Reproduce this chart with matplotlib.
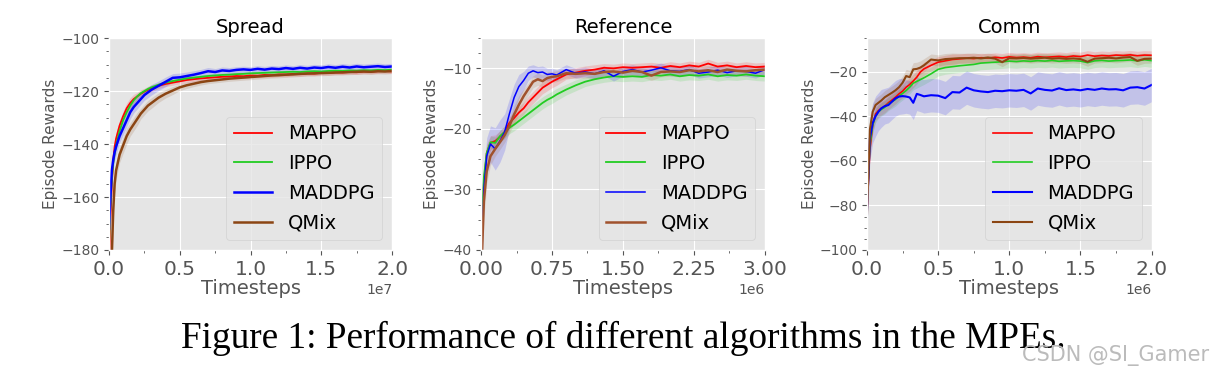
import matplotlib
matplotlib.use('Agg')
import matplotlib.pyplot as plt
from matplotlib.ticker import AutoMinorLocator, MultipleLocator

plt.style.use('ggplot')

names = ['MAPPO', 'IPPO', 'MADDPG', 'QMix']

# ---- Spread (timesteps in 1e6) ----
spread_x = [0, 0.1, 0.2, 0.3, 0.4, 0.5, 0.75, 1.0, 1.25, 1.5, 1.75, 2.0, 2.25, 2.5, 2.75, 3.0,
            3.5, 4, 4.5, 5, 5.5, 6, 6.5, 7, 7.5, 8, 8.5, 9, 9.5, 10, 10.5, 11, 11.5, 12, 12.5,
            13, 13.5, 14, 14.5, 15, 15.5, 16, 16.5, 17, 17.5, 18, 18.5, 19, 19.5, 20]
spread_mappo = [-185, -168, -155, -146, -141, -138, -133, -129.5, -126.5, -124.5, -123, -122, -121, -120.2,
                -119.5, -119, -118, -117.3, -116.8, -116.3, -115.8, -115.5, -115.2, -115, -114.8, -114.6,
                -114.5, -114.3, -114.4, -114.1, -114.2, -113.9, -114, -113.7, -113.8, -113.5, -113.6,
                -113.3, -113.4, -113.1, -113.2, -112.9, -113, -112.8, -112.9, -112.6, -112.7, -112.5,
                -112.4, -112.6]
spread_ippo = [-178, -163, -153, -147, -143.5, -140.5, -135, -131, -128, -125.5, -123.5, -122, -120.8, -120,
               -119.2, -118.6, -117.6, -116.8, -116.2, -115.7, -115.2, -114.9, -114.6, -114.3, -114.1,
               -113.9, -113.8, -113.6, -113.5, -113.3, -113.2, -113.1, -113.0, -112.9, -112.8, -112.7,
               -112.8, -112.6, -112.5, -112.6, -112.4, -112.3, -112.4, -112.2, -112.3, -112.1, -112.2,
               -112.0, -112.1, -111.9]
spread_maddpg = [-172, -160, -150, -146, -143, -141, -137, -134, -131, -128, -126, -124.5, -123, -121.5,
                 -120.5, -119.5, -118, -116.5, -115, -114.8, -114.3, -113.8, -113.2, -112.5, -112.8,
                 -112.2, -112.4, -112, -111.8, -112, -111.6, -111.9, -111.5, -111.7, -111.3, -111.6,
                 -111.2, -111.5, -111.1, -111.3, -110.9, -111.2, -110.8, -111.1, -110.7, -111, -110.8,
                 -110.6, -110.9, -110.7]
spread_qmix = [-195, -190, -182, -165, -155, -150, -144, -140.5, -137, -134.5, -132.5, -130.5, -128.5, -127,
               -125.5, -124.5, -122.5, -121, -119.8, -118.6, -117.8, -117.2, -116.6, -116.2, -115.9,
               -115.6, -115.3, -115.1, -114.9, -114.7, -114.5, -114.3, -114.1, -114.0, -113.8, -113.7,
               -113.5, -113.4, -113.3, -113.2, -113.1, -113.0, -112.9, -112.8, -112.7, -112.6, -112.7,
               -112.5, -112.6, -112.4]
spread_mappo_std = [3, 3, 3, 2.5, 2.5, 2.5, 2, 2, 2, 2, 1.8, 1.5, 1.5, 1.2, 1.2, 1.2, 1, 1, 1, 1, 1, 0.9,
                    0.9, 0.9, 0.9, 0.8, 0.8, 0.8, 0.8, 0.8, 0.8, 0.8, 0.8, 0.8, 0.8, 0.8, 0.8, 0.8, 0.8,
                    0.8, 0.8, 0.8, 0.8, 0.8, 0.8, 0.8, 0.8, 0.8, 0.8, 0.8]
spread_ippo_std = [3, 3, 2.5, 2.5, 2, 2, 2, 1.8, 1.5, 1.5, 1.2, 1.2, 1, 1, 1, 1, 0.8, 0.8, 0.8, 0.8, 0.8,
                   0.7, 0.7, 0.7, 0.7, 0.7, 0.7, 0.7, 0.7, 0.7, 0.7, 0.7, 0.7, 0.7, 0.7, 0.7, 0.7, 0.7,
                   0.7, 0.7, 0.7, 0.7, 0.7, 0.7, 0.7, 0.7, 0.7, 0.7, 0.7, 0.7]
spread_maddpg_std = [4, 4, 3.5, 3, 3, 3, 2.5, 2.5, 2.5, 2.5, 2.2, 2.2, 2, 2, 2, 2, 1.8, 1.8, 1.6, 1.6, 1.5,
                     1.5, 1.4, 1.4, 1.3, 1.3, 1.3, 1.2, 1.2, 1.2, 1.2, 1.2, 1.2, 1.2, 1.2, 1.2, 1.2, 1.2,
                     1.2, 1.2, 1.2, 1.2, 1.2, 1.2, 1.2, 1.2, 1.2, 1.2, 1.2, 1.2]
spread_qmix_std = [4, 4, 4, 4, 3.5, 3.5, 3, 3, 3, 2.5, 2.5, 2.5, 2, 2, 2, 2, 1.8, 1.6, 1.5, 1.2, 1.2, 1.1,
                   1.1, 1, 1, 1, 1, 1, 1, 1, 1, 1, 1, 1, 1, 1, 1, 1, 1, 1, 1, 1, 1, 1, 1, 1, 1, 1, 1, 1]

# ---- Reference (timesteps in 1e6) ----
ref_x = [0, 0.03, 0.06, 0.1, 0.15, 0.2, 0.25, 0.3, 0.35, 0.4, 0.45, 0.5, 0.55, 0.6, 0.65, 0.7, 0.75,
         0.8, 0.9, 1.0, 1.1, 1.2, 1.3, 1.4, 1.5, 1.6, 1.7, 1.8, 1.9, 2.0, 2.1, 2.2, 2.3, 2.4, 2.5,
         2.6, 2.7, 2.8, 2.9, 3.0]
ref_mappo = [-42, -29, -24, -22.3, -22, -21.3, -20.5, -19, -18.2, -17.3, -16.6, -15.6, -14.8, -14.0,
             -13.2, -12.7, -12.2, -11.8, -11.0, -10.7, -10.4, -10.2, -9.9, -10.0, -9.8, -9.9, -9.8,
             -9.7, -9.9, -9.6, -9.8, -9.5, -9.7, -9.2, -9.7, -9.5, -9.8, -9.6, -9.8, -9.7]
ref_ippo = [-38, -28, -24, -22.2, -22.3, -21.2, -20.5, -19.8, -19.3, -18.7, -18.1, -17.5, -16.9, -16.3,
            -15.7, -15.2, -14.8, -14.3, -13.5, -12.8, -12.2, -11.8, -11.5, -11.3, -11.4, -11.3, -11.4,
            -11.1, -11.2, -11.0, -11.3, -11.1, -11.2, -11.0, -11.3, -11.1, -11.2, -11.0, -11.2, -11.3]
ref_maddpg = [-42, -30, -24.5, -22.5, -23.3, -22, -20.5, -17.5, -14.8, -13, -12, -10.8, -10.4, -10.7,
              -10.6, -11, -10.9, -11.1, -10.2, -10.8, -10.6, -10.9, -10.4, -11.3, -10.5, -10.2, -10.6,
              -10.3, -9.9, -10.4, -10.5, -10.2, -10.8, -10.6, -10.3, -10.7, -10.4, -10.5, -10.8, -10.2]
ref_qmix = [-45, -32, -27, -24.5, -23.3, -22.2, -21, -19.5, -17.6, -16, -14.6, -13.4, -12.2, -11.8,
            -12.1, -11.6, -11.4, -11.3, -10.8, -10.9, -10.8, -10.9, -10.6, -10.5, -10.7, -10.4, -10.6,
            -11.2, -10.6, -10.5, -10.6, -10.3, -10.5, -10.3, -10.6, -10.2, -10.4, -10.5, -10.3, -10.2]
ref_mappo_std = [2, 2, 1.5, 1.2, 1, 1, 1, 1, 1, 1, 1, 1, 1, 1, 1, 1, 1, 1, 0.8, 0.8, 0.8, 0.8, 0.7, 0.7,
                 0.7, 0.7, 0.7, 0.7, 0.7, 0.7, 0.7, 0.7, 0.7, 0.7, 0.7, 0.7, 0.7, 0.7, 0.7, 0.7]
ref_ippo_std = [1.5, 1.5, 1.2, 1, 1, 1, 1, 1, 1, 1, 1, 1, 1, 1, 1, 1, 1, 1, 0.9, 0.9, 0.8, 0.8, 0.8, 0.8,
                0.8, 0.8, 0.8, 0.8, 0.8, 0.8, 0.8, 0.8, 0.8, 0.8, 0.8, 0.8, 0.8, 0.8, 0.8, 0.8]
ref_maddpg_std = [3, 3, 3, 3, 3.5, 3.5, 3, 2.5, 2.2, 2, 1.5, 1.2, 1, 1, 1, 1, 0.9, 0.9, 0.8, 0.8, 0.8,
                  0.8, 0.8, 0.8, 0.8, 0.8, 0.8, 0.8, 0.8, 0.8, 0.8, 0.8, 0.8, 0.8, 0.8, 0.8, 0.8, 0.8,
                  0.8, 0.8]
ref_qmix_std = [3, 3, 2, 1.5, 1.2, 1.2, 1.2, 1.2, 1.5, 1.5, 1.2, 1, 1, 1, 1, 1, 0.9, 0.9, 0.8, 0.8, 0.8,
                0.8, 0.8, 0.8, 0.8, 0.8, 0.8, 0.8, 0.8, 0.8, 0.8, 0.8, 0.8, 0.8, 0.8, 0.8, 0.8, 0.8,
                0.8, 0.8]

# ---- Comm (timesteps in 1e6) ----
comm_x = [0, 0.02, 0.04, 0.06, 0.08, 0.1, 0.125, 0.15, 0.175, 0.2, 0.225, 0.25, 0.275, 0.3, 0.325,
          0.35, 0.375, 0.4, 0.45, 0.5, 0.55, 0.6, 0.65, 0.7, 0.75, 0.8, 0.85, 0.9, 0.95, 1.0, 1.05,
          1.1, 1.15, 1.2, 1.25, 1.3, 1.35, 1.4, 1.45, 1.5, 1.55, 1.6, 1.65, 1.7, 1.75, 1.8, 1.85,
          1.9, 1.95, 2.0]
comm_mappo = [-82, -55, -44, -39, -37.5, -36.5, -35.5, -34, -32.8, -31.5, -30, -28.8, -27, -25.8, -24.2,
              -22.5, -20.2, -18.8, -17.2, -15.8, -15.2, -14.6, -14.3, -14.0, -14.2, -13.8, -13.9, -13.6,
              -13.9, -13.4, -13.7, -13.5, -13.8, -13.3, -13.6, -13.4, -13.2, -13.5, -13.0, -13.3, -12.6,
              -13.1, -12.8, -13.0, -12.6, -12.8, -12.5, -12.9, -12.6, -12.7]
comm_ippo = [-80, -53, -44, -40, -38, -37, -36, -34.5, -33.5, -32.5, -31, -29.8, -28.5, -27, -25.2,
             -24.4, -23.6, -22.8, -21.0, -19.0, -18.2, -17.8, -17.4, -17.1, -16.8, -16.2, -16.0, -15.8,
             -15.6, -15.3, -15.5, -15.2, -15.4, -15.1, -15.3, -15.0, -15.4, -15.2, -15.1, -15.3, -16.0,
             -15.2, -15.0, -15.3, -15.1, -15.0, -14.8, -15.2, -14.7, -15.1]
comm_maddpg = [-82, -50, -43, -40, -38, -36.5, -35.5, -35, -33.5, -32, -31.2, -31, -31.2, -31.6, -34,
               -30, -30.5, -31.1, -30.6, -30.8, -31.9, -29.2, -29.4, -27.2, -28.4, -28.9, -29.2, -28.6,
               -28.8, -28.4, -28.6, -28.2, -29.8, -27.6, -28.2, -28.5, -27.5, -28.3, -28.0, -28.4, -27.8,
               -28.2, -27.6, -28.0, -27.9, -28.4, -27.2, -27.0, -27.6, -26.0]
comm_qmix = [-84, -46, -38, -35, -34, -33, -31.5, -30.5, -29.5, -28.4, -27, -25, -22, -22.5, -19,
             -18.8, -18.2, -17.2, -14.6, -15.0, -14.4, -14.2, -14.0, -14.0, -13.8, -14.1, -13.7, -14.2,
             -15.8, -14.0, -14.1, -13.9, -14.2, -14.0, -13.8, -14.2, -14.0, -14.3, -14.1, -14.4, -15.6,
             -14.2, -14.0, -13.8, -14.1, -13.7, -13.5, -15.2, -14.3, -14.2]
comm_mappo_std = [4, 4, 3.5, 3, 3, 3, 3, 3, 3, 3, 3, 3, 3, 3, 3, 3, 3, 3, 2.5, 2.5, 2.5, 2.5, 2.2, 2.2,
                  2.2, 2, 2, 2, 2, 2, 2, 2, 2, 2, 2, 2, 2, 2, 2, 2, 2, 2, 2, 2, 2, 2, 2, 2, 2, 2]
comm_ippo_std = [4, 4, 3.5, 3, 3, 3, 3, 3, 3, 3, 3, 3, 3, 3, 3, 3, 3, 3, 3, 3, 3, 3, 3, 3, 3, 3, 3, 3,
                 3, 3, 3, 3, 3, 3, 3, 3, 3, 3, 3, 3, 3, 3, 3, 3, 3, 3, 3, 3, 3, 3]
comm_maddpg_std = [10, 10, 9, 9, 8.5, 8.5, 8, 8, 8, 8, 8, 8, 7.5, 7.5, 7.5, 7.5, 7.5, 7.5, 7.5, 7.5, 7.5,
                   7.5, 7.5, 7.5, 7.5, 7.5, 7.5, 7.5, 7.5, 7.5, 7.5, 7.5, 7.5, 7.5, 7.5, 7.5, 7.5, 7.5,
                   7.5, 7.5, 7.5, 7.5, 7.5, 7.5, 7.5, 7.5, 7.5, 7.5, 7.5, 7.5]
comm_qmix_std = [4, 4, 3.5, 3, 3, 3, 3, 3, 3, 3, 3, 3, 3, 3, 3, 3, 3, 3, 2.5, 2.5, 2.5, 2.5, 2.2, 2.2,
                 2.2, 2, 2, 2, 2, 2, 2, 2, 2, 2, 2, 2, 2, 2, 2, 2, 2, 2, 2, 2, 2, 2, 2, 2, 2, 2]


def draw(ax, title, x, ys, stds, colors, ylim, xlim, xmajor, ymajor, widths):
    xs = [v * 1e6 for v in x]
    for name, y, s, c, lw in zip(names, ys, stds, colors, widths):
        lo = [a - b for a, b in zip(y, s)]
        hi = [a + b for a, b in zip(y, s)]
        ax.fill_between(xs, lo, hi, color=c, alpha=0.15, lw=0)
        ax.plot(xs, y, color=c, lw=lw, label=name)
    ax.set_title(title, fontsize=14, pad=4)
    ax.set_xlim(0, xlim)
    ax.set_ylim(*ylim)
    ax.xaxis.set_major_locator(MultipleLocator(xmajor))
    ax.yaxis.set_major_locator(MultipleLocator(ymajor))
    ax.xaxis.set_minor_locator(AutoMinorLocator(2))
    ax.yaxis.set_minor_locator(AutoMinorLocator(4))
    ax.ticklabel_format(axis='x', style='sci', scilimits=(0, 0))
    ax.xaxis.get_offset_text().set_fontsize(10)
    ax.tick_params(axis='x', labelsize=14.5)
    ax.tick_params(axis='y', labelsize=10)
    ax.tick_params(which='minor', length=2, color='#555555')
    ax.set_xlabel('Timesteps', fontsize=14, labelpad=0)
    ax.set_ylabel('Episode Rewards', fontsize=11, labelpad=2)
    ax.legend(loc='lower right', fontsize=14, labelspacing=0.55)


fig = plt.figure(figsize=(12.15, 3.73), dpi=100)
fig.patch.set_facecolor('white')

ax1 = fig.add_axes([0.0897, 0.3298, 0.2330, 0.568])
ax2 = fig.add_axes([0.3959, 0.3298, 0.2337, 0.568])
ax3 = fig.add_axes([0.7136, 0.3298, 0.2342, 0.568])

draw(ax1, 'Spread', spread_x,
     [spread_mappo, spread_ippo, spread_maddpg, spread_qmix],
     [spread_mappo_std, spread_ippo_std, spread_maddpg_std, spread_qmix_std],
     ['#ff0000', '#22cc22', '#0000ff', '#8b4513'], (-180, -100), 2e7, 0.5e7, 20,
     [1.3, 1.3, 1.8, 1.8])
draw(ax2, 'Reference', ref_x,
     [ref_mappo, ref_ippo, ref_maddpg, ref_qmix],
     [ref_mappo_std, ref_ippo_std, ref_maddpg_std, ref_qmix_std],
     ['#ff0000', '#22cc22', '#0000ff', '#a0522d'], (-40, -5), 3e6, 0.75e6, 10,
     [1.3, 1.3, 1.1, 1.8])
draw(ax3, 'Comm', comm_x,
     [comm_mappo, comm_ippo, comm_maddpg, comm_qmix],
     [comm_mappo_std, comm_ippo_std, comm_maddpg_std, comm_qmix_std],
     ['#ff0000', '#22cc22', '#0000ff', '#8b4513'], (-100, -5), 2e6, 0.5e6, 20,
     [1.2, 1.2, 1.5, 1.5])

fig.text(0.1487, 0.066, 'Figure 1: Performance of different algorithms in the MPEs.',
         ha='left', va='baseline', fontsize=26.8, family='Liberation Serif', color='black')
fig.text(0.8409, 0.031, 'CSDN @SI_Gamer', ha='left', va='baseline', fontsize=15,
         color='#bbbbbb', family='Liberation Sans Narrow')

fig.savefig('out.png', dpi=100)
